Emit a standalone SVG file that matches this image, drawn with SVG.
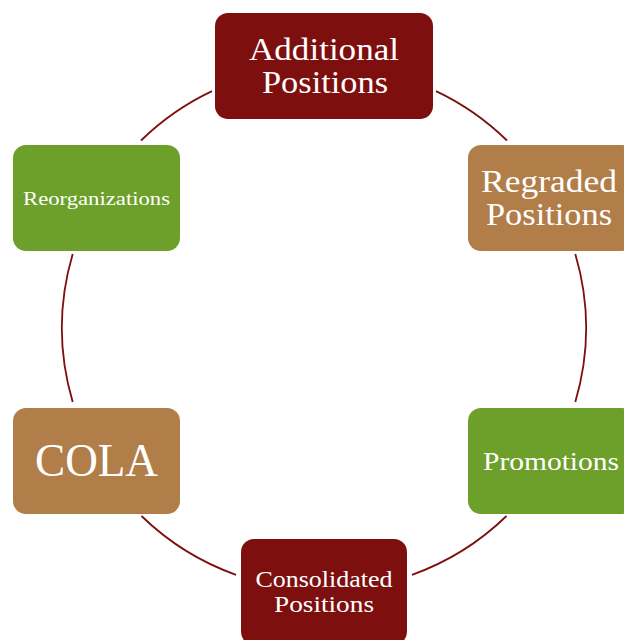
<svg xmlns="http://www.w3.org/2000/svg" width="624" height="640" viewBox="0 0 624 640">
<style>
.box{stroke:none}
.red{fill:#7D0F0F}
.brown{fill:#B17D49}
.green{fill:#6DA02A}
text{fill:#ffffff;font-family:"Liberation Serif","DejaVu Serif",serif;text-anchor:middle}
.conn{fill:none;stroke:#7D0F0F;stroke-width:1.8}
</style>
<rect width="624" height="640" fill="#ffffff"/>
<g id="connectors">
<path class="conn" d="M436,91.1 A262,262 0 0 1 507,140.5"/>
<path class="conn" d="M575.3,254 A262,262 0 0 1 575.3,402"/>
<path class="conn" d="M506.5,516 A262,262 0 0 1 412,574.8"/>
<path class="conn" d="M236,574.8 A262,262 0 0 1 141.5,516"/>
<path class="conn" d="M72.7,402 A262,262 0 0 1 72.7,254"/>
<path class="conn" d="M141,140.5 A262,262 0 0 1 212,91.1"/>
</g>
<g id="additional">
<rect class="box red" x="215" y="13" width="218" height="106" rx="13"/>
<text x="324" y="60" font-size="32" textLength="150" lengthAdjust="spacingAndGlyphs">Additional</text>
<text x="325" y="93" font-size="32" textLength="126" lengthAdjust="spacingAndGlyphs">Positions</text>
</g>
<g id="regraded">
<rect class="box brown" x="468" y="145" width="167" height="106" rx="13"/>
<text x="549" y="192" font-size="32" textLength="136" lengthAdjust="spacingAndGlyphs">Regraded</text>
<text x="549" y="225" font-size="32" textLength="126" lengthAdjust="spacingAndGlyphs">Positions</text>
</g>
<g id="promotions">
<rect class="box green" x="468" y="408" width="167" height="106" rx="13"/>
<text x="551" y="470" font-size="25" textLength="136" lengthAdjust="spacingAndGlyphs">Promotions</text>
</g>
<g id="consolidated">
<rect class="box red" x="241" y="539" width="166" height="106" rx="13"/>
<text x="324" y="587" font-size="23" textLength="137" lengthAdjust="spacingAndGlyphs">Consolidated</text>
<text x="324" y="612" font-size="23" textLength="100" lengthAdjust="spacingAndGlyphs">Positions</text>
</g>
<g id="cola">
<rect class="box brown" x="13" y="408" width="167" height="106" rx="13"/>
<text x="96.5" y="476" font-size="46" textLength="123" lengthAdjust="spacingAndGlyphs">COLA</text>
</g>
<g id="reorganizations">
<rect class="box green" x="13" y="145" width="167" height="106" rx="13"/>
<text x="96.5" y="205" font-size="19" textLength="147" lengthAdjust="spacingAndGlyphs">Reorganizations</text>
</g>
</svg>
